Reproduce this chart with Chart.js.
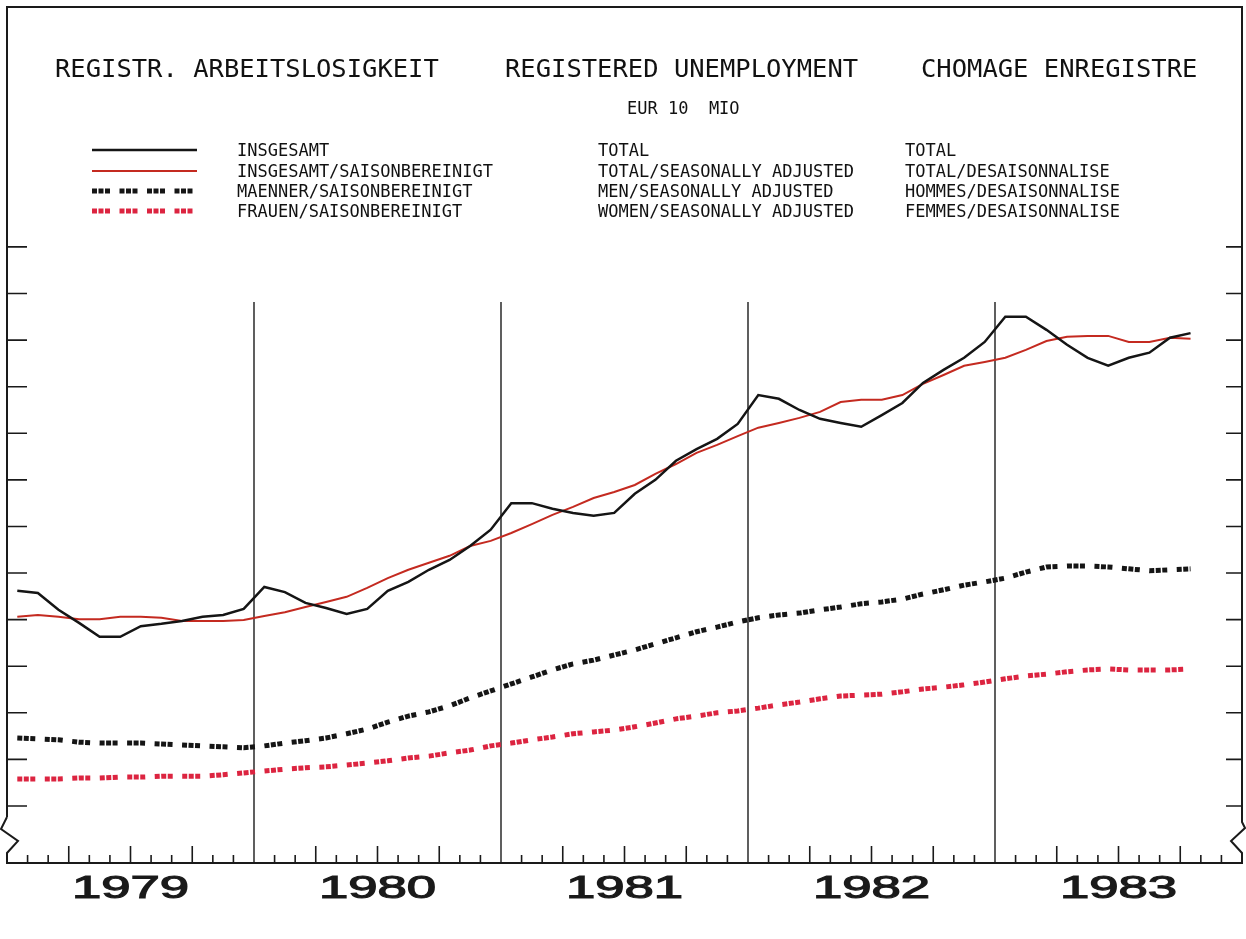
<!DOCTYPE html>
<html>
<head>
<meta charset="utf-8">
<script src="https://cdn.jsdelivr.net/npm/chart.js@4/dist/chart.umd.min.js"></script>
<style>
  body { margin: 0; background: #fff; }
  #wrap { position: relative; width: 1246px; height: 939px; }
  #chart { position: absolute; left: 0; top: 0; }
  .t { position: absolute; font-family: "DejaVu Sans Mono", monospace; color: #111; white-space: pre; line-height: 1; }
  .big { font-size: 25.5px; }
  .small { font-size: 17px; }
</style>
</head>
<body>
<div id="wrap">
  <canvas id="chart" width="1246" height="939"></canvas>
  <div class="t big" style="left:55px;top:56px">REGISTR. ARBEITSLOSIGKEIT</div>
  <div class="t big" style="left:505px;top:56px">REGISTERED UNEMPLOYMENT</div>
  <div class="t big" style="left:921px;top:56px">CHOMAGE ENREGISTRE</div>
  <div class="t small" style="left:627px;top:100px">EUR 10  MIO</div>

  <div class="t small" style="left:237px;top:142px">INSGESAMT</div>
  <div class="t small" style="left:237px;top:163px">INSGESAMT/SAISONBEREINIGT</div>
  <div class="t small" style="left:237px;top:183px">MAENNER/SAISONBEREINIGT</div>
  <div class="t small" style="left:237px;top:203px">FRAUEN/SAISONBEREINIGT</div>

  <div class="t small" style="left:598px;top:142px">TOTAL</div>
  <div class="t small" style="left:598px;top:163px">TOTAL/SEASONALLY ADJUSTED</div>
  <div class="t small" style="left:598px;top:183px">MEN/SEASONALLY ADJUSTED</div>
  <div class="t small" style="left:598px;top:203px">WOMEN/SEASONALLY ADJUSTED</div>

  <div class="t small" style="left:905px;top:142px">TOTAL</div>
  <div class="t small" style="left:905px;top:163px">TOTAL/DESAISONNALISE</div>
  <div class="t small" style="left:905px;top:183px">HOMMES/DESAISONNALISE</div>
  <div class="t small" style="left:905px;top:203px">FEMMES/DESAISONNALISE</div>
</div>
<script>
// millions of registered unemployed, EUR 10, monthly Jan 1979 .. Oct 1983
const years = ['1979', '1980', '1981', '1982', '1983']
const monthNames = ['JAN', 'FEB', 'MAR', 'APR', 'MAY', 'JUN', 'JUL', 'AUG', 'SEP', 'OCT', 'NOV', 'DEC']
const yTicks = [2, 3, 4, 5, 6, 7, 8, 9, 10, 11, 12, 13, 14]

const total = [
  6.62, 6.57, 6.21, 5.93, 5.63, 5.63, 5.86, 5.91, 5.97, 6.06, 6.10, 6.23,
  6.70, 6.59, 6.36, 6.25, 6.12, 6.23, 6.62, 6.81, 7.07, 7.28, 7.58, 7.93,
  8.50, 8.50, 8.38, 8.29, 8.23, 8.29, 8.70, 9.00, 9.41, 9.66, 9.88, 10.20,
  10.82, 10.74, 10.50, 10.31, 10.22, 10.14, 10.39, 10.65, 11.08, 11.36, 11.62, 11.96,
  12.50, 12.50, 12.22, 11.90, 11.62, 11.45, 11.62, 11.73, 12.05, 12.15
]
const totalSA = [
  6.06, 6.10, 6.06, 6.01, 6.01, 6.06, 6.06, 6.04, 5.97, 5.97, 5.97, 5.99,
  6.08, 6.16, 6.27, 6.38, 6.49, 6.68, 6.89, 7.07, 7.22, 7.37, 7.58, 7.69,
  7.86, 8.05, 8.25, 8.42, 8.61, 8.74, 8.89, 9.13, 9.34, 9.58, 9.75, 9.94,
  10.12, 10.22, 10.33, 10.46, 10.67, 10.72, 10.72, 10.82, 11.06, 11.25, 11.45, 11.53,
  11.62, 11.79, 11.98, 12.07, 12.09, 12.09, 11.96, 11.96, 12.05, 12.03
]
const men = [
  3.46, 3.44, 3.42, 3.37, 3.35, 3.35, 3.35, 3.33, 3.31, 3.29, 3.27, 3.25,
  3.29, 3.35, 3.40, 3.46, 3.55, 3.65, 3.80, 3.93, 4.02, 4.15, 4.32, 4.47,
  4.62, 4.77, 4.92, 5.05, 5.13, 5.24, 5.35, 5.48, 5.61, 5.74, 5.84, 5.95,
  6.04, 6.10, 6.14, 6.21, 6.27, 6.34, 6.38, 6.44, 6.55, 6.64, 6.74, 6.81,
  6.89, 7.02, 7.13, 7.15, 7.15, 7.13, 7.09, 7.05, 7.07, 7.09
]
const women = [
  2.58, 2.58, 2.58, 2.60, 2.60, 2.62, 2.62, 2.64, 2.64, 2.64, 2.67, 2.71,
  2.75, 2.79, 2.82, 2.84, 2.88, 2.92, 2.97, 3.03, 3.07, 3.14, 3.20, 3.29,
  3.35, 3.42, 3.48, 3.55, 3.59, 3.63, 3.70, 3.78, 3.87, 3.93, 4.00, 4.04,
  4.10, 4.17, 4.23, 4.30, 4.36, 4.38, 4.40, 4.45, 4.51, 4.55, 4.60, 4.66,
  4.73, 4.79, 4.83, 4.88, 4.92, 4.94, 4.92, 4.92, 4.92, 4.94
]

const months = []
years.forEach(y => monthNames.forEach(m => months.push(m + ' ' + y)))

const dash = [5, 1.5, 5, 1.5, 5, 9.5]

// axes, frame, year lines and legend keys, drawn on top of the scales
const plotterFrame = {
  id: 'plotterFrame',
  beforeDatasetsDraw(chart) {
    const { ctx, chartArea: { left, right, bottom }, scales: { x, y } } = chart
    const top = 7
    ctx.save()
    ctx.strokeStyle = '#1a1a1a'
    ctx.lineWidth = 2
    ctx.lineCap = 'butt'

    // frame with axis breaks
    ctx.beginPath()
    ctx.moveTo(left, 817)
    ctx.lineTo(left, top)
    ctx.lineTo(right, top)
    ctx.lineTo(right, 822)
    ctx.lineTo(right + 3, 828)
    ctx.lineTo(right - 11, 841)
    ctx.lineTo(right, 853)
    ctx.lineTo(right, bottom)
    ctx.lineTo(left, bottom)
    ctx.lineTo(left, 853)
    ctx.lineTo(left + 11, 841)
    ctx.lineTo(left - 6, 829)
    ctx.lineTo(left, 817)
    ctx.stroke()

    // y ticks, inward on both sides
    ctx.lineWidth = 1.6
    yTicks.forEach(v => {
      const py = y.getPixelForValue(v)
      ctx.beginPath()
      ctx.moveTo(left, py); ctx.lineTo(left + 20, py)
      ctx.moveTo(right, py); ctx.lineTo(right - 16, py)
      ctx.stroke()
    })

    // month ticks on the time axis
    for (let i = 1; i < months.length; i++) {
      if (i % 12 === 0) continue
      const px = x.getPixelForValue(i - 0.5)
      ctx.beginPath()
      ctx.moveTo(px, bottom)
      ctx.lineTo(px, bottom - (i % 3 === 0 ? 17 : 8))
      ctx.stroke()
    }

    // year separators
    ctx.lineWidth = 1.4
    for (let k = 1; k < years.length; k++) {
      const px = x.getPixelForValue(k * 12 - 0.5)
      ctx.beginPath()
      ctx.moveTo(px, 302)
      ctx.lineTo(px, bottom)
      ctx.stroke()
    }

    // year labels
    ctx.fillStyle = '#1a1a1a'
    ctx.font = '31px "Liberation Sans"'
    ctx.textAlign = 'center'
    ctx.textBaseline = 'alphabetic'
    ctx.lineWidth = 1.1
    years.forEach((yr, k) => {
      const px = x.getPixelForValue(k * 12 + 5.5)
      ctx.save()
      ctx.translate(px, 898)
      ctx.scale(1.7, 1)
      ctx.fillText(yr, 0, 0)
      ctx.strokeText(yr, 0, 0)
      ctx.restore()
    })

    // legend keys
    const rows = [150, 171, 191, 211]
    chart.data.datasets.forEach((ds, i) => {
      ctx.save()
      ctx.strokeStyle = ds.borderColor
      ctx.lineWidth = ds.borderWidth
      ctx.setLineDash(ds.borderDash || [])
      ctx.beginPath()
      ctx.moveTo(92, rows[i])
      ctx.lineTo(197, rows[i])
      ctx.stroke()
      ctx.restore()
    })
    ctx.restore()
  }
}

new Chart(document.getElementById('chart'), {
  type: 'line',
  data: {
    labels: months,
    datasets: [
      { label: 'INSGESAMT', data: total, borderColor: '#151515', borderWidth: 2.5 },
      { label: 'INSGESAMT/SAISONBEREINIGT', data: totalSA, borderColor: '#c42a20', borderWidth: 2 },
      { label: 'MAENNER/SAISONBEREINIGT', data: men, borderColor: '#151515', borderWidth: 5, borderDash: dash },
      { label: 'FRAUEN/SAISONBEREINIGT', data: women, borderColor: '#dc2440', borderWidth: 5, borderDash: dash }
    ]
  },
  plugins: [plotterFrame],
  options: {
    responsive: false,
    animation: false,
    layout: { padding: { left: 7, right: 4, top: 0, bottom: 76 } },
    elements: { point: { radius: 0 }, line: { tension: 0, borderCapStyle: 'butt' } },
    scales: {
      x: { type: 'category', offset: true, display: false },
      y: { min: 0.776, max: 19.3, display: false }
    },
    plugins: {
      legend: { display: false },
      tooltip: { enabled: false }
    }
  }
})
</script>
</body>
</html>
